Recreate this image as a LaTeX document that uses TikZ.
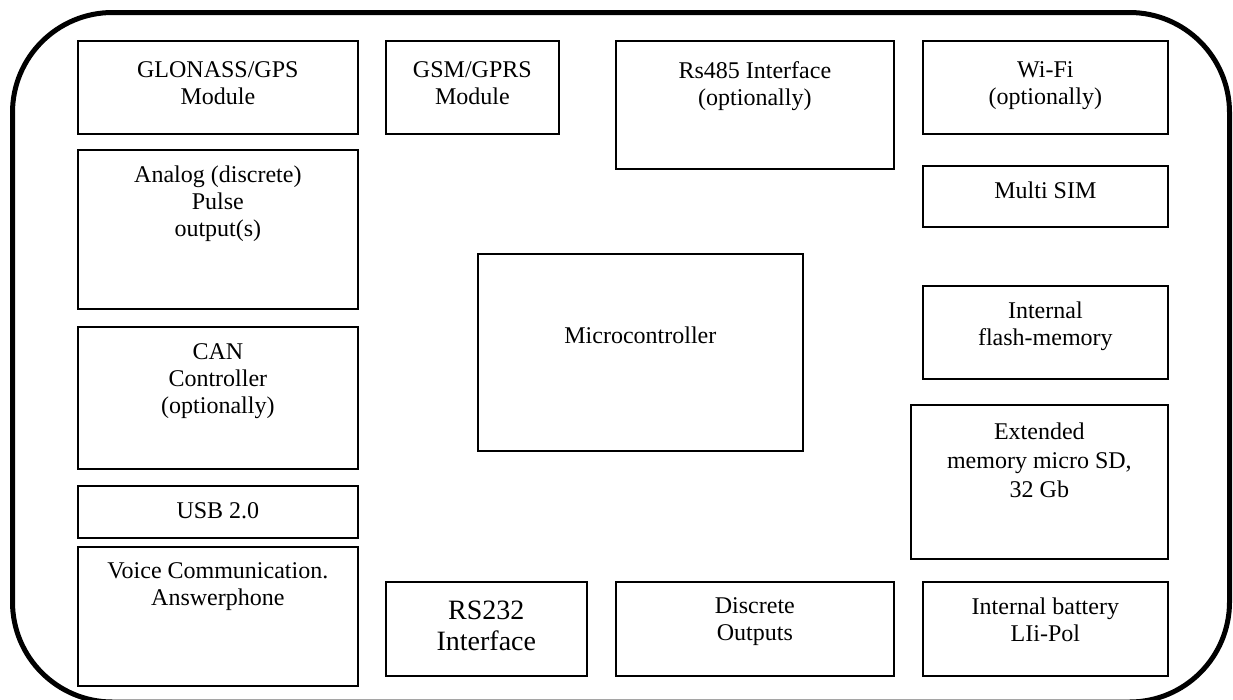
\documentclass[tikz,border=0pt]{standalone}
\usepackage{fontspec}
\setmainfont{Liberation Serif}
\usepackage{tikz}
\usetikzlibrary{positioning}

\begin{document}
\begin{tikzpicture}[
        x=1pt, y=-1pt,
        unit/.style={rectangle, draw, line width=1.7pt, anchor=north west, inner sep=0pt},
        caption/.style={anchor=north, align=center, inner sep=0pt, font=\fontsize{24}{27}\selectfont},
        bigcaption/.style={caption, font=\fontsize{28}{31}\selectfont}
    ]
        \useasboundingbox (0,0) rectangle (1233,699);
        \clip (0,0) rectangle (1233,699);

        % device housing
        \draw[line width=5pt, rounded corners=100pt] (12.5,12.5) rectangle (1229.5,702);

        % left column
        \node[unit, minimum width=280, minimum height=93] (glonass) at (77,40) {};
        \node[caption, below=21pt of glonass.north] (glonasstext) {GLONASS/GPS\\Module};
        \node[unit, minimum width=280, minimum height=159] (analog) at (77,149) {};
        \node[caption, below=17pt of analog.north] (analogtext) {Analog (discrete)\\Pulse\\output(s)};
        \node[unit, minimum width=280, minimum height=142] (can) at (77,326) {};
        \node[caption, below=17.5pt of can.north] (cantext) {CAN\\Controller\\(optionally)};
        \node[unit, minimum width=280, minimum height=52] (usb) at (77,485) {};
        \node[caption, below=17pt of usb.north] (usbtext) {USB 2.0};
        \node[unit, minimum width=280, minimum height=139] (voice) at (77,546) {};
        \node[caption, below=16.5pt of voice.north] (voicetext) {Voice Communication.\\Answerphone};

        % middle
        \node[unit, minimum width=173, minimum height=93] (gsm) at (385,40) {};
        \node[caption, below=21pt of gsm.north] (gsmtext) {GSM/GPRS\\Module};
        \node[unit, minimum width=278, minimum height=128] (rs485) at (615,40) {};
        \node[caption, below=21pt of rs485.north] (rs485text) {Rs485 Interface\\(optionally)};
        \node[unit, minimum width=325, minimum height=197] (mcu) at (477,253) {};
        \node[caption, below=73.5pt of mcu.north] (mcutext) {Microcontroller};
        \node[unit, minimum width=201, minimum height=94] (rs232) at (385,581) {};
        \node[bigcaption, below=20pt of rs232.north] (rs232text) {RS232\\Interface};
        \node[unit, minimum width=278, minimum height=94] (outputs) at (615,581) {};
        \node[caption, below=16.5pt of outputs.north] (outputstext) {Discrete\\Outputs};

        % right column
        \node[unit, minimum width=245, minimum height=93] (wifi) at (922,40) {};
        \node[caption, below=21pt of wifi.north] (wifitext) {Wi-Fi\\(optionally)};
        \node[unit, minimum width=245, minimum height=61] (sim) at (922,165) {};
        \node[caption, below=16.5pt of sim.north] (simtext) {Multi SIM};
        \node[unit, minimum width=245, minimum height=93] (flash) at (922,285) {};
        \node[caption, below=16.5pt of flash.north] (flashtext) {Internal\\flash-memory};
        \node[unit, minimum width=257, minimum height=154] (sdcard) at (910,404) {};
        \node[caption, below=19pt of sdcard.north, font=\fontsize{24}{29}\selectfont] (sdcardtext) {Extended\\memory micro SD,\\32 Gb};
        \node[unit, minimum width=245, minimum height=94] (battery) at (922,581) {};
        \node[caption, below=16.5pt of battery.north] (batterytext) {Internal battery\\LIi-Pol};

    \end{tikzpicture}
\end{document}
